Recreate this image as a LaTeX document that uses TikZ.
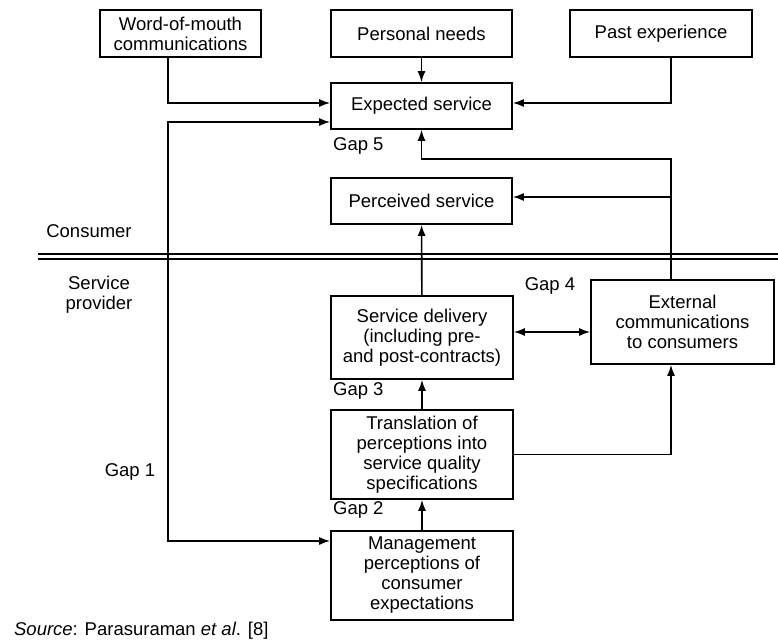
\documentclass[tikz,border=0pt]{standalone}
\usepackage{fontspec}
\setmainfont{Liberation Sans}
\usepackage{tikz}
\usetikzlibrary{arrows.meta}
\tikzset{>={Latex[length=11pt,width=8pt]}}

\begin{document}
\begin{tikzpicture}[x=1pt, y=-1pt, line width=1.6pt,
    font=\fontsize{18.5}{20}\selectfont,
    box/.style={draw, align=center, inner sep=0pt}]
    \useasboundingbox (0,0) rectangle (778,642);

    % consumer side
    \node [box, minimum width=161, minimum height=47] (wom) at (180.5, 33.5) {Word-of-mouth\\communications};
    \node [box, minimum width=181, minimum height=47] (needs) at (421.5, 33.5) {Personal needs};
    \node [box, minimum width=182, minimum height=47] (past) at (661, 33.5) {Past experience};
    \node [box, minimum width=181, minimum height=46] (expected) at (421.5, 106) {Expected service};
    \node [box, minimum width=181, minimum height=46] (perceived) at (421.5, 201) {Perceived service};

    % provider side
    \node [box, minimum width=182, minimum height=83] (delivery) at (422, 337.5) {Service delivery\\(including pre-\\and post-contracts)};
    \node [box, minimum width=183, minimum height=84] (external) at (682.5, 322) {External\\communications\\to consumers};
    \node [box, minimum width=182, minimum height=89] (transl) at (422, 454.5) {Translation of\\perceptions into\\service quality\\specifications};
    \node [box, minimum width=182, minimum height=89] (mgmt) at (422, 575.5) {Management\\perceptions of\\consumer\\expectations};

    % border line
    \draw (38, 254) -- (778, 254);
    \draw (38, 259) -- (778, 259);
    \node [] (consumer) at (89, 231) {Consumer};
    \node [align=center] (provider) at (99, 295) {Service\\provider};

    % rails
    \coordinate (womturn) at (168, 103);
    \coordinate (railtop) at (168, 122);
    \coordinate (railbot) at (168, 541);
    \coordinate (pastturn) at (671, 103);
    \coordinate (gapfive) at (421.5, 159);
    \coordinate (percturn) at (671, 197);
    \coordinate (gapfour) at (513, 332);

    \draw [->] (wom.south -| womturn) -- (womturn) -- (expected.west |- womturn);
    \draw [<->] (expected.west |- railtop) -- (railtop) -- (railbot) -- (mgmt.west |- railbot);
    \draw [->] (needs) -- (expected);
    \draw [->] (past.south -| pastturn) -- (pastturn) -- (expected.east |- pastturn);
    \draw [->] (external.north -| pastturn) |- (gapfive) -- (expected.south);
    \draw [->] (percturn) -- (perceived.east |- percturn);
    \draw [->] (delivery) -- (perceived);
    \draw [<->] (delivery.east |- gapfour) -- (external.west |- gapfour);
    \draw [->] (transl) -- (delivery);
    \draw [->] (mgmt) -- (transl);
    \draw [->] (transl.east) -| (external.south -| pastturn);

    % gap labels
    \node [anchor=west] (gfive) at (329, 146) {Gap 5};
    \node [] (gfour) at (550, 286) {Gap 4};
    \node [anchor=west] (gthree) at (329, 391) {Gap 3};
    \node [anchor=west] (gtwo) at (329, 510) {Gap 2};
    \node [] (gone) at (130, 472) {Gap 1};

    \node [anchor=west] (source) at (10, 631) {\textit{Source}: Parasuraman \textit{et al}. [8]};
\end{tikzpicture}
\end{document}
